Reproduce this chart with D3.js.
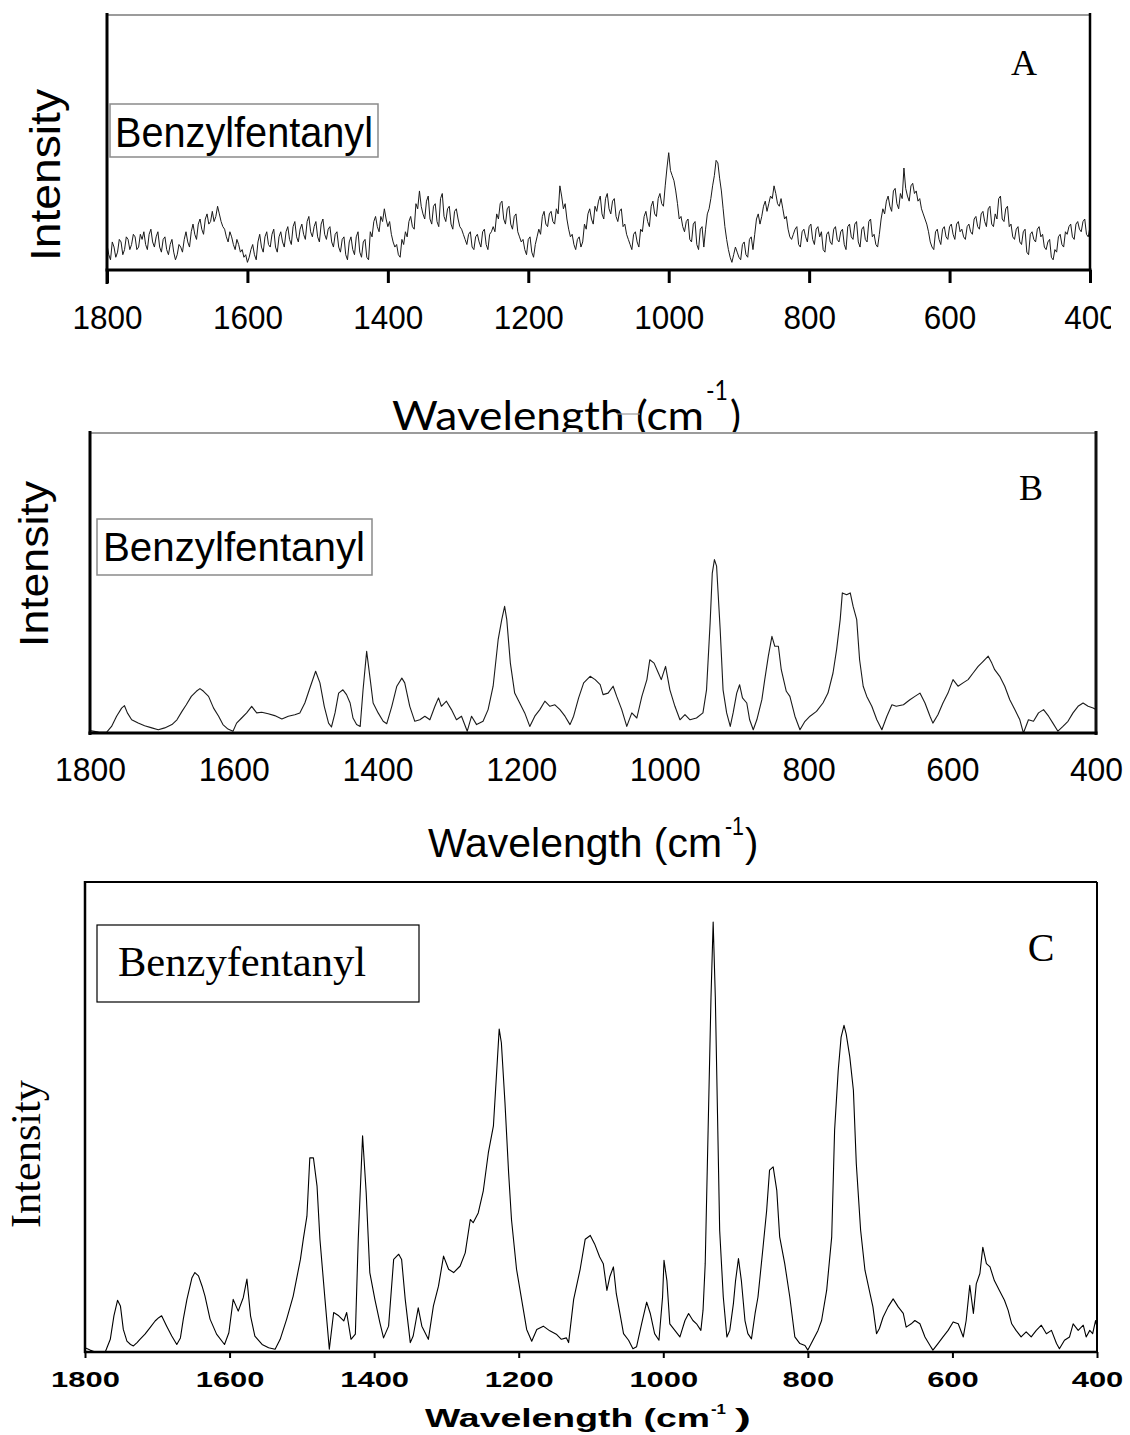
<!DOCTYPE html>
<html>
<head>
  <meta charset="UTF-8">
  <title>Benzylfentanyl spectra</title>
  <script src="https://d3js.org/d3.v7.min.js"></script>
  <style>
    body { margin: 0; background: #fff; }
  </style>
</head>
<body>
<div id="chart"></div>
<script>
// shared wavenumber ticks
const tickWn = [1800, 1600, 1400, 1200, 1000, 800, 600, 400];

// panel A: noisy spectrum, one reading every 5 cm-1 from 1800 to 400
const wnA = d3.range(1800, 399, -5);
const valsA = [
  10,4,9,7,11,8,12,10,13,9,
  12,10,14,11,13,9,12,8,10,7,
  6,9,12,11,15,14,18,16,20,18,
  23,21,22,17,13,15,10,12,7,5,
  3,8,6,11,9,13,10,14,9,13,
  11,15,12,17,13,16,14,19,15,17,
  13,18,14,16,11,14,9,12,6,11,
  8,13,7,11,5,15,19,17,21,24,
  17,14,9,6,12,15,19,17,26,31,
  22,27,20,25,19,28,21,24,18,23,
  20,16,12,14,9,13,11,15,10,14,
  17,22,26,20,24,18,21,15,11,8,
  12,7,10,16,21,18,22,19,24,33,
  24,20,13,10,12,9,18,22,20,25,
  27,22,28,24,27,21,23,17,14,10,
  14,11,16,21,19,25,22,28,26,33,
  46,37,31,20,17,19,12,18,10,16,
  9,22,28,37,42,31,17,8,3,9,
  5,10,6,12,8,20,18,25,23,29,
  33,26,28,20,16,12,16,10,15,13,
  17,12,16,13,8,14,11,16,12,15,
  10,17,13,18,11,16,12,19,13,10,
  14,24,27,25,31,26,30,40,29,33,
  30,27,24,20,15,9,15,12,16,13,
  17,14,18,15,13,17,15,20,17,22,
  19,24,18,22,28,20,24,17,13,16,
  11,15,7,14,12,16,13,9,11,5,
  8,13,10,15,17,13,18,16,19,14,17
];
// panel A readings halfway between the ones above (1797.5, 1792.5, ... 402.5)
const midA = [
  6,11,5,12,6,13,8,14,8,14,
  15,8,16,9,15,7,13,6,12,4,
  10,7,15,9,18,12,20,14,22,19,
  19,25,19,16,11,13,8,10,8,6,
  5,10,4,14,7,15,9,16,7,15,
  9,17,10,19,11,18,12,21,13,19,
  11,20,12,17,9,15,7,13,4,13,
  6,15,5,12,4,13,21,15,19,20,
  19,11,10,5,10,13,21,16,24,25,
  20,29,18,26,17,30,19,25,16,24,
  17,14,10,15,8,14,9,16,8,15,
  15,20,27,18,25,16,22,13,12,6,
  13,5,13,14,23,17,23,18,22,29,
  26,16,14,8,13,11,16,24,18,23,
  29,20,30,22,28,19,24,18,12,8,
  15,9,15,23,17,27,21,30,25,40,
  39,35,26,21,15,20,11,19,8,17,
  16,24,33,43,36,24,12,5,6,7,
  4,11,5,13,14,22,21,27,26,28,
  30,25,24,21,13,14,17,9,16,11,
  18,10,17,15,7,15,10,17,11,16,
  8,18,12,19,9,17,11,20,14,9,
  20,22,29,23,32,24,28,32,27,34,
  31,28,22,18,11,8,16,10,17,12,
  18,12,19,16,12,18,14,21,16,23,
  17,25,17,20,29,19,25,18,12,17,
  10,16,6,15,11,17,14,8,12,4,
  7,14,9,14,18,12,19,15,20,13
];

// panel B: [wavenumber, intensity]
const specB = [
  [1800,0.8],[1788,0.3],[1777,0.2],[1770,2.2],[1763,5.6],[1756,8.3],[1752,9.1],[1748,6.7],[1742,4.4],[1733,3.3],
  [1724,2.4],[1714,1.7],[1705,1.1],[1696,1.7],[1686,2.8],[1679,4.4],[1672,7.2],[1666,9.4],[1659,12.2],[1652,13.9],
  [1647,14.8],[1642,13.9],[1635,12.2],[1628,8.3],[1621,5.6],[1615,2.8],[1608,1.3],[1601,0.6],[1596,3.3],[1589,5.0],
  [1582,6.7],[1575,8.9],[1568,6.7],[1561,6.9],[1552,6.4],[1543,5.8],[1533,4.7],[1524,5.6],[1515,6.1],[1508,6.7],
  [1501,10.0],[1494,15.0],[1486,20.6],[1480,16.7],[1474,8.9],[1468,3.3],[1464,2.0],[1459,6.7],[1454,13.3],[1448,14.4],
  [1443,12.8],[1438,10.0],[1434,5.0],[1429,2.8],[1424,2.2],[1420,14.4],[1415,27.2],[1410,17.8],[1406,10.0],[1399,6.7],
  [1392,3.9],[1387,3.1],[1380,8.9],[1373,15.6],[1366,18.3],[1362,16.7],[1355,8.9],[1348,3.9],[1341,4.4],[1334,5.6],
  [1327,4.4],[1320,8.9],[1315,11.7],[1311,8.9],[1304,10.6],[1297,7.8],[1290,4.4],[1283,5.6],[1275,0.6],[1269,5.6],
  [1262,2.8],[1253,3.9],[1246,7.8],[1239,15.6],[1232,31.1],[1227,37.8],[1223,42.2],[1220,37.8],[1215,23.3],[1209,13.3],
  [1202,10.0],[1195,6.7],[1188,2.2],[1181,5.6],[1174,7.8],[1167,10.6],[1160,8.9],[1153,9.4],[1146,7.8],[1139,5.6],
  [1132,2.8],[1127,5.6],[1120,11.7],[1113,16.7],[1104,18.9],[1097,17.8],[1090,16.1],[1086,12.8],[1079,13.3],[1072,15.6],
  [1067,12.2],[1060,7.8],[1053,2.2],[1046,6.7],[1039,5.0],[1032,12.2],[1025,17.8],[1021,24.4],[1015,23.3],[1009,20.0],
  [1005,17.8],[999,22.2],[993,14.4],[986,8.9],[979,4.4],[972,6.1],[965,4.4],[956,5.0],[947,6.7],[942,14.4],
  [937,36.7],[934,53.3],[931,57.8],[928,55.6],[923,34.4],[919,14.4],[914,6.7],[909,2.2],[905,6.7],[900,13.3],
  [896,16.1],[892,11.7],[886,10.0],[882,4.4],[877,1.1],[872,4.4],[865,11.1],[861,17.8],[856,25.6],[851,32.2],
  [847,28.9],[842,28.9],[838,21.1],[831,13.9],[826,12.2],[819,5.6],[812,1.1],[805,3.9],[798,5.6],[789,7.2],
  [780,10.0],[773,13.3],[766,20.0],[761,27.8],[756,37.8],[753,46.7],[747,46.1],[742,46.7],[738,42.2],[733,37.8],
  [729,24.4],[724,15.6],[719,12.2],[712,8.9],[705,4.4],[698,1.1],[691,5.6],[684,9.4],[678,8.9],[668,9.4],
  [659,11.1],[652,12.2],[645,13.3],[638,10.0],[631,5.6],[627,3.3],[620,6.1],[613,10.0],[606,13.3],[599,17.8],
  [592,15.6],[585,16.7],[578,17.8],[571,20.0],[564,22.2],[557,23.9],[550,25.6],[545,23.3],[541,21.1],[534,18.9],
  [527,15.6],[520,11.1],[513,7.8],[506,4.4],[501,0],[494,4.4],[487,3.9],[480,6.7],[473,7.8],[466,5.6],
  [460,3.3],[453,0.6],[446,2.2],[439,3.9],[432,6.7],[425,8.9],[418,10.0],[411,8.9],[404,8.3],[400,7.8]
];

// panel C: [wavenumber, intensity]
const specC = [
  [1800,0.9],[1793,0.4],[1786,0],[1772,0],[1765,2.7],[1760,7.7],[1755,11.0],[1751,9.8],[1747,4.8],[1742,2.3],
  [1737,1.6],[1733,1.3],[1728,2.0],[1724,2.7],[1717,3.8],[1710,5.2],[1703,6.6],[1698,7.3],[1694,7.7],[1687,5.5],
  [1680,3.4],[1673,1.6],[1668,3.0],[1664,7.0],[1659,11.2],[1652,15.8],[1648,16.9],[1643,16.2],[1638,14.0],[1634,11.9],
  [1627,7.0],[1618,3.8],[1607,1.6],[1601,4.1],[1595,11.2],[1588,8.7],[1581,11.6],[1576,15.5],[1571,7.7],[1565,3.4],
  [1555,1.6],[1546,0.9],[1537,0.6],[1530,2.7],[1521,7.0],[1512,11.9],[1502,19.7],[1498,24.0],[1493,28.9],[1489,41.3],
  [1484,41.3],[1479,35.3],[1475,24.0],[1468,11.2],[1462,0.6],[1456,8.4],[1449,7.7],[1442,6.6],[1438,8.4],[1432,2.7],
  [1426,3.8],[1422,24.0],[1416,46.0],[1411,33.9],[1406,16.9],[1399,11.2],[1392,6.2],[1387,3.0],[1380,5.5],[1373,19.7],
  [1366,20.8],[1362,19.7],[1357,11.2],[1350,2.0],[1346,3.4],[1339,9.4],[1334,5.5],[1325,2.7],[1318,9.8],[1311,14.0],
  [1304,20.4],[1297,17.6],[1290,16.9],[1281,18.3],[1274,21.1],[1267,28.2],[1263,27.5],[1256,29.6],[1249,34.3],[1242,42.4],
  [1235,48.1],[1230,60.9],[1227,68.7],[1224,65.8],[1219,53.0],[1214,38.2],[1210,28.2],[1203,17.6],[1196,11.2],[1189,4.8],
  [1182,2.3],[1175,4.8],[1166,5.5],[1157,4.5],[1148,3.8],[1141,2.7],[1134,3.0],[1131,2.0],[1124,11.2],[1115,17.6],
  [1108,24.0],[1101,24.8],[1095,23.0],[1088,20.2],[1083,18.8],[1078,13.1],[1074,16.0],[1069,18.1],[1065,12.4],[1060,8.2],
  [1055,3.9],[1048,2.5],[1042,0.7],[1037,1.1],[1030,6.0],[1023,10.6],[1018,8.2],[1012,3.9],[1006,2.5],[1001,11.7],
  [999,19.5],[995,15.2],[991,6.0],[984,4.6],[977,3.2],[970,6.7],[965,8.2],[959,6.7],[954,6.0],[948,4.6],
  [945,8.9],[942,18.8],[938,47.2],[934,75.5],[931,91.5],[928,75.5],[925,50.7],[922,25.9],[917,11.7],[912,3.2],
  [908,4.6],[903,10.3],[900,15.2],[896,19.9],[892,15.2],[887,6.7],[883,3.9],[878,2.8],[873,8.2],[869,11.7],
  [862,22.3],[857,30.1],[853,38.7],[848,39.4],[843,34.4],[839,24.5],[832,18.8],[825,11.7],[818,3.2],[811,1.8],
  [804,1.4],[800,0.4],[793,2.5],[786,4.6],[781,6.7],[774,13.1],[767,24.5],[763,47.2],[758,59.9],[754,67.0],
  [750,69.5],[747,67.7],[742,62.8],[737,55.7],[733,40.1],[727,25.9],[721,17.4],[714,12.4],[710,9.6],[705,3.9],
  [701,5.0],[696,7.4],[689,9.6],[682,11.3],[675,9.6],[668,8.2],[664,5.3],[657,6.0],[652,6.7],[645,6.0],
  [638,3.2],[631,1.4],[627,0.4],[620,1.8],[613,3.2],[606,4.6],[599,6.4],[592,6.0],[585,3.2],[581,6.7],
  [576,14.2],[571,8.2],[567,14.5],[562,16.7],[558,22.3],[553,18.8],[548,18.1],[542,15.2],[535,13.1],[528,11.0],
  [523,8.9],[518,6.0],[512,4.6],[505,3.2],[498,4.3],[491,3.2],[484,4.6],[477,5.7],[470,3.9],[463,4.6],
  [456,1.8],[452,0.7],[445,2.5],[438,3.2],[433,6.0],[426,4.6],[419,5.7],[415,3.2],[410,4.6],[406,3.9],
  [402,6.7],[400,5.3]
];

const svg = d3.select("#chart")
  .append("svg")
  .attr("width", 1130)
  .attr("height", 1435);

svg.append("rect").attr("width", 1130).attr("height", 1435).attr("fill", "#fff");

svg.append("defs").append("clipPath")
  .attr("id", "clipA")
  .append("rect")
  .attr("x", 0).attr("y", 0).attr("width", 1111).attr("height", 432);

function rule(g, x1, y1, x2, y2, color, w) {
  g.append("line")
    .attr("x1", x1).attr("y1", y1).attr("x2", x2).attr("y2", y2)
    .attr("stroke", color).attr("stroke-width", w);
}

function spectrum(g, data, x, y, color, w) {
  g.append("path")
    .datum(data)
    .attr("fill", "none")
    .attr("stroke", color)
    .attr("stroke-width", w)
    .attr("stroke-linejoin", "round")
    .attr("d", d3.line().x(d => x(d[0])).y(d => y(d[1])));
}

function xAxis(g, x, yPos, opt) {
  g.append("g")
    .attr("transform", "translate(0," + yPos + ")")
    .call(d3.axisBottom(x).tickValues(tickWn).tickSize(opt.tick).tickPadding(opt.pad).tickFormat(d3.format("d")))
    .call(a => a.select(".domain").remove())
    .call(a => a.selectAll(".tick line").attr("stroke", "#000").attr("stroke-width", opt.tickW))
    .call(a => a.selectAll("text")
      .attr("fill", "#000")
      .style("font-family", opt.font)
      .style("font-size", opt.size + "px")
      .style("font-weight", opt.weight)
      .attr("textLength", d => String(d).length * opt.digit)
      .attr("lengthAdjust", "spacingAndGlyphs"));
}

function label(g, txt, x, y, opt) {
  const t = g.append("text")
    .attr("x", x).attr("y", y)
    .attr("fill", "#000")
    .style("font-family", opt.font)
    .style("font-size", opt.size + "px")
    .style("font-weight", opt.weight || "normal")
    .attr("text-anchor", opt.anchor || "start")
    .text(txt);
  if (opt.len) t.attr("textLength", opt.len).attr("lengthAdjust", "spacingAndGlyphs");
  if (opt.rotate) t.attr("transform", "rotate(-90," + x + "," + y + ")");
  return t;
}

const arial = "'Liberation Sans', Arial, sans-serif";
const times = "'Liberation Serif', 'Times New Roman', serif";
const lato = "Lato, 'Open Sans', sans-serif";

// ---------- panel A ----------
const gA = svg.append("g").attr("clip-path", "url(#clipA)");
const xA = d3.scaleLinear().domain([1800, 400]).range([107, 1090]);
const yA = d3.scaleLinear().domain([0, 100]).range([270, 15]);

const pointsA = [];
wnA.forEach((w, i) => {
  pointsA.push([w, valsA[i]]);
  if (i < midA.length) pointsA.push([w - 2.5, midA[i]]);
});
spectrum(gA, pointsA, xA, yA, "#1a1a1a", 1);

rule(gA, 107, 15, 1090, 15, "#7a7a7a", 1.5);
rule(gA, 107, 13, 107, 284, "#000", 3);
rule(gA, 1090, 13, 1090, 270, "#000", 2.5);
rule(gA, 105.5, 270, 1091.5, 270, "#000", 3);
xAxis(gA, xA, 270, {tick: 13, pad: 22, tickW: 3, font: arial, size: 34, weight: "normal", digit: 17.5});

gA.append("rect").attr("x", 110).attr("y", 104).attr("width", 268).attr("height", 53)
  .attr("fill", "#fff").attr("stroke", "#8a8a8a").attr("stroke-width", 1.5);
label(gA, "Benzylfentanyl", 115, 147, {font: arial, size: 43, len: 258});
label(gA, "A", 1024, 75, {font: times, size: 36, anchor: "middle"});
label(gA, "Intensity", 60, 175, {font: arial, size: 42, anchor: "middle", len: 172, rotate: true});

label(gA, "Wavelength (cm", 392, 430, {font: lato, size: 41, len: 312});
label(gA, "-1", 706, 400, {font: lato, size: 26, len: 22});
label(gA, ")", 730, 430, {font: lato, size: 41});
rule(gA, 617, 414, 640, 414, "#9a9a9a", 1.2);

// ---------- panel B ----------
const gB = svg.append("g");
const xB = d3.scaleLinear().domain([1800, 400]).range([90, 1096]);
const yB = d3.scaleLinear().domain([0, 100]).range([733, 433]);

spectrum(gB, specB, xB, yB, "#1a1a1a", 1.1);

rule(gB, 90, 433, 1096, 433, "#7a7a7a", 1.5);
rule(gB, 90, 431, 90, 735, "#000", 3);
rule(gB, 1096, 431, 1096, 735, "#111", 3);
rule(gB, 88.5, 733, 1097.5, 733, "#000", 3);
xAxis(gB, xB, 733, {tick: 0, pad: 24, tickW: 0, font: arial, size: 34, weight: "normal", digit: 17.75});

gB.append("rect").attr("x", 97).attr("y", 519).attr("width", 275).attr("height", 56)
  .attr("fill", "#fff").attr("stroke", "#8a8a8a").attr("stroke-width", 1.5);
label(gB, "Benzylfentanyl", 103, 561, {font: arial, size: 40, len: 262});
label(gB, "B", 1031, 500, {font: times, size: 36, anchor: "middle"});
label(gB, "Intensity", 48, 564, {font: arial, size: 40, anchor: "middle", len: 166, rotate: true});
label(gB, "Wavelength (cm", 428, 857, {font: arial, size: 40, len: 294});
label(gB, "-1", 725, 835, {font: arial, size: 25, len: 19});
label(gB, ")", 745, 857, {font: arial, size: 40});

// ---------- panel C ----------
const gC = svg.append("g");
const xC = d3.scaleLinear().domain([1800, 400]).range([85, 1097]);
const yC = d3.scaleLinear().domain([0, 100]).range([1352, 882]);

spectrum(gC, specC, xC, yC, "#000", 1.1);

rule(gC, 85, 882, 1097, 882, "#000", 2);
rule(gC, 1097, 882, 1097, 1352, "#000", 2);
rule(gC, 85, 881, 85, 1353, "#000", 2.5);
rule(gC, 84, 1352, 1098, 1352, "#000", 2.5);
xAxis(gC, xC, 1352, {tick: 6, pad: 13, tickW: 2, font: arial, size: 22, weight: "bold", digit: 17.2});

gC.append("rect").attr("x", 97).attr("y", 925).attr("width", 322).attr("height", 77)
  .attr("fill", "#fff").attr("stroke", "#000").attr("stroke-width", 1.2);
label(gC, "Benzyfentanyl", 118, 976, {font: times, size: 42, len: 248});
label(gC, "C", 1041, 961, {font: times, size: 40, anchor: "middle"});
label(gC, "Intensity", 40, 1154, {font: times, size: 42, anchor: "middle", len: 148, rotate: true});
label(gC, "Wavelength (cm", 425, 1427, {font: arial, size: 25, weight: "bold", len: 285});
label(gC, "-1", 711, 1414, {font: arial, size: 15, weight: "bold", len: 15});
label(gC, ")", 735, 1427, {font: arial, size: 25, weight: "bold", len: 16});
</script>
</body>
</html>
